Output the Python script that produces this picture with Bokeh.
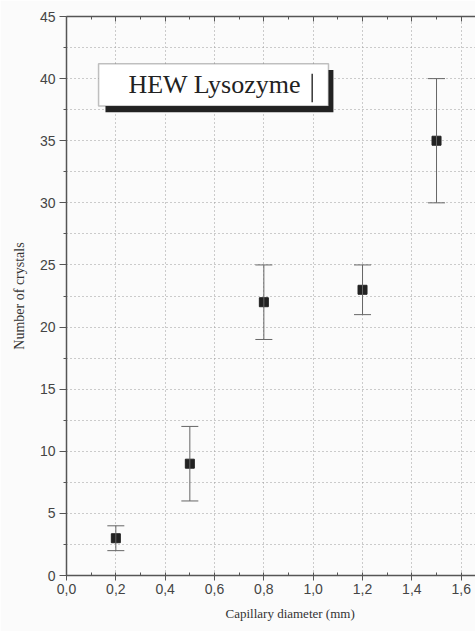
from bokeh.plotting import figure
from bokeh.models import (ColumnDataSource, Range1d, LinearAxis, FixedTicker,
                          CustomJSTickFormatter, Whisker, TeeHead, BoxAnnotation,
                          Label, Title)
from bokeh.embed import file_html
from bokeh.resources import INLINE

# ---- data ----
diameters = [0.2, 0.5, 0.8, 1.2, 1.5]
crystals = [3, 9, 22, 23, 35]
crystals_low = [2, 6, 19, 21, 30]
crystals_high = [4, 12, 25, 25, 40]

x_ticks = [0.0, 0.2, 0.4, 0.6, 0.8, 1.0, 1.2, 1.4, 1.6]
x_minor = [0.1, 0.3, 0.5, 0.7, 0.9, 1.1, 1.3, 1.5]
y_ticks = [0, 5, 10, 15, 20, 25, 30, 35, 40, 45]
y_minor = [2.5, 7.5, 12.5, 17.5, 22.5, 27.5, 32.5, 37.5, 42.5]

legend_text = "HEW Lysozyme"
x_title = "Capillary diameter (mm)"
y_title = "Number of crystals"

src = ColumnDataSource(dict(x=diameters, y=crystals, lower=crystals_low, upper=crystals_high))

BG = "#fbfbfb"
AX = "#555555"
LAB = "#444444"

p = figure(width=475, height=631, output_backend="svg", toolbar_location=None,
           x_range=Range1d(0, 1.658), y_range=Range1d(0, 45),
           min_border_left=66, min_border_right=0, min_border_top=16, min_border_bottom=56,
           background_fill_color=BG, border_fill_color=BG)
p.outline_line_color = None

xt = FixedTicker(ticks=x_ticks, minor_ticks=x_minor)
yt = FixedTicker(ticks=y_ticks, minor_ticks=y_minor)
fmt = CustomJSTickFormatter(code="return tick.toFixed(1).replace('.', ',');")

# bottom axis
xa = p.xaxis[0]
xa.ticker = xt
xa.formatter = fmt
xa.axis_line_color = AX
xa.axis_line_width = 1.5
xa.major_tick_line_color = AX
xa.minor_tick_line_color = AX
xa.major_tick_in = 3
xa.major_tick_out = 5
xa.minor_tick_in = 3
xa.minor_tick_out = 0
xa.major_label_text_font = "Liberation Sans"
xa.major_label_text_font_size = "14px"
xa.major_label_text_color = LAB
xa.major_label_standoff = 3

# left axis
ya = p.yaxis[0]
ya.ticker = yt
ya.axis_line_color = AX
ya.axis_line_width = 1.5
ya.major_tick_line_color = AX
ya.minor_tick_line_color = AX
ya.major_tick_in = 0
ya.major_tick_out = 7
ya.minor_tick_in = 0
ya.minor_tick_out = 3
ya.major_label_text_font = "Liberation Sans"
ya.major_label_text_font_size = "14px"
ya.major_label_text_color = LAB
ya.major_label_standoff = 4
ya.axis_label = y_title
ya.axis_label_text_font = "Liberation Serif"
ya.axis_label_text_font_size = "14px"
ya.axis_label_text_font_style = "normal"
ya.axis_label_text_color = "#333333"
ya.axis_label_standoff = 10

# top axis (ticks only)
ta = LinearAxis(ticker=xt, formatter=CustomJSTickFormatter(code="return '';"),
                axis_line_color=AX, axis_line_width=1.5,
                major_tick_line_color=AX, minor_tick_line_color=AX,
                major_tick_in=5, major_tick_out=0, minor_tick_in=3, minor_tick_out=0,
                major_label_standoff=0)
p.add_layout(ta, "above")

# grids
p.xgrid.ticker = xt
p.xgrid.grid_line_color = "#9a9a9a"
p.xgrid.grid_line_dash = "1 3"
p.ygrid.ticker = yt
p.ygrid.grid_line_color = "#9a9a9a"
p.ygrid.grid_line_dash = "1 3"
p.ygrid.minor_grid_line_color = "#9a9a9a"
p.ygrid.minor_grid_line_dash = "1 3"

# x-axis title (offset to match the original's off-centre position)
p.add_layout(Title(text=x_title, align="left", offset=159, text_font="Liberation Serif",
                   text_font_size="13px", text_font_style="normal", text_color="#333333",
                   standoff=14), "below")

# error bars
w = Whisker(base="x", lower="lower", upper="upper", source=src,
            line_color="#666666", line_width=1,
            upper_head=TeeHead(size=17, line_color="#666666", line_width=1),
            lower_head=TeeHead(size=17, line_color="#666666", line_width=1))
w.level = "glyph"
p.add_layout(w)

p.scatter("x", "y", source=src, marker="square", size=9,
          fill_color="#222222", line_color="#222222")

# legend box with shadow
p.add_layout(BoxAnnotation(left=0.158, right=1.082, bottom=37.3, top=40.7,
                           fill_color="#222222", fill_alpha=1, line_color=None))
p.add_layout(BoxAnnotation(left=0.130, right=1.062, bottom=37.8, top=41.2,
                           fill_color="#ffffff", fill_alpha=1, line_color="#333333",
                           line_width=1.5))
p.add_layout(Label(x=0.251, y=39.5, text=legend_text, text_font="Liberation Serif",
                   text_font_size="26px", text_color="#222222", text_baseline="middle"))
p.add_layout(BoxAnnotation(left=0.993, right=0.999, bottom=38.1, top=40.4,
                           fill_color="#333333", fill_alpha=1, line_color=None))

open("out.html", "w").write(file_html(p, INLINE))
